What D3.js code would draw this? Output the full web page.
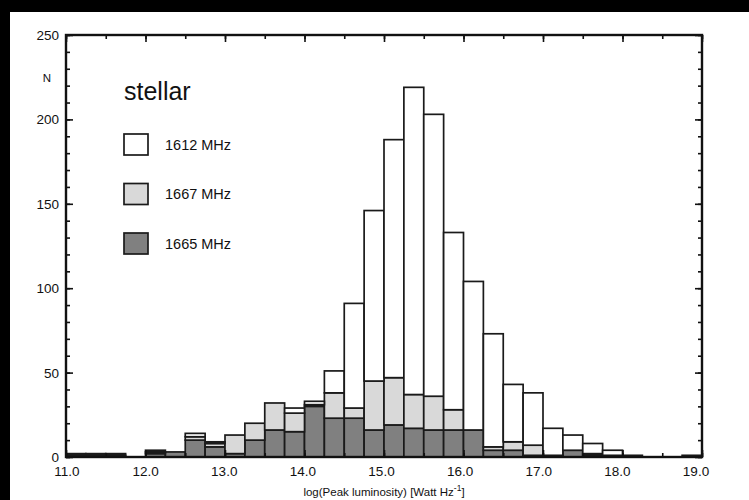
<!DOCTYPE html>
<html lang="en">
<head>
    <meta charset="UTF-8">
    <title>stellar OH masers - peak luminosity</title>
    <script src="https://cdn.jsdelivr.net/npm/d3@7"></script>
    <style>
        body{
            margin:0px;
            background:#000;
        }
        svg{
            position:absolute;
            left:0px;
            top:0px;
        }
        text{
            font-family:"Liberation Sans", Arial, Helvetica, sans-serif;
            fill:#111;
        }
    </style>
</head>
<body>
    <svg id="chart" width="749" height="500"></svg>
    <script>
        // left edge of each 0.25 dex bin
        var bins = [11.0,11.25,11.5,11.75,12.0,12.25,12.5,12.75,13.0,13.25,13.5,13.75,
                    14.0,14.25,14.5,14.75,15.0,15.25,15.5,15.75,16.0,16.25,16.5,16.75,
                    17.0,17.25,17.5,17.75,18.0,18.25,18.5,18.75]

        // counts per bin, stacked: 1665 at the bottom, 1667 on it, 1612 on top
        var n1665 = [1,1,1,0,2,3,10,6,2,10,16,15,30,23,23,16,19,17,16,16,16,4,4,1,0,4,1,1,1,0,0,1]
        var n1667 = [0,0,0,0,1,0,2,2,11,10,16,11,1,15,6,29,28,20,20,12,0,2,5,6,1,0,1,0,0,0,0,0]
        var n1612 = [1,1,1,0,1,0,2,1,0,0,0,3,2,13,62,101,141,182,167,105,88,67,34,31,16,9,6,3,0,0,0,0]

        var xTicks = [11,12,13,14,15,16,17,18,19]
        var yTicks = [0,50,100,150,200,250]

        var series = [
            {name:"1612 MHz", key:"f1612", fill:"#ffffff"},
            {name:"1667 MHz", key:"f1667", fill:"#d9d9d9"},
            {name:"1665 MHz", key:"f1665", fill:"#808080"}
        ]

        var table = bins.map(function(b, i){
            return {bin:b, f1665:n1665[i], f1667:n1667[i], f1612:n1612[i]}
        })

        var svg = d3.select("#chart")
        var W = 749, H = 500
        // plot frame (note: "top" is reserved on window, so use m-prefixed names)
        var mL = 66, mR = 702, mT = 35, mB = 457

        // white page with black scan edges on top and left
        svg.append("rect").attr("x", 10).attr("y", 12).attr("width", W - 10).attr("height", H - 12)
            .style("fill", "#fff")

        var x = d3.scaleLinear().domain([11, 19]).range([mL, mR])
        var y = d3.scaleLinear().domain([0, 250]).range([mB, mT])
        // the printed tick labels sit a little short of the frame ticks in the original
        var xLab = d3.scaleLinear().domain([11, 19]).range([mL + 1, mR - 6])

        var stack = d3.stack().keys(["f1665", "f1667", "f1612"])
        var layers = stack(table)
        var fillOf = {f1612:"#ffffff", f1667:"#d9d9d9", f1665:"#808080"}

        svg.append("g").selectAll("g")
            .data(layers)
            .enter().append("g")
            .style("fill", function(d){ return fillOf[d.key] })
            .selectAll("rect")
            .data(function(d){ return d.filter(function(s){ return s[1] > s[0] }) })
            .enter().append("rect")
            .attr("x", function(d){ return x(d.data.bin) })
            .attr("width", function(d){ return x(d.data.bin + 0.25) - x(d.data.bin) })
            .attr("y", function(d){ return y(d[1]) })
            .attr("height", function(d){ return y(d[0]) - y(d[1]) })
            .attr("stroke", "#1a1a1a")
            .attr("stroke-width", 1.7)

        // boxed frame, ticks pointing inward on all four sides
        var minorX = d3.range(11, 19.01, 0.5)
        var minorY = d3.range(0, 250.1, 10)
        var axes = [
            d3.axisBottom(x).tickValues(minorX).tickSize(-4).tickFormat(""),
            d3.axisTop(x).tickValues(minorX).tickSize(-4).tickFormat(""),
            d3.axisLeft(y).tickValues(minorY).tickSize(-4).tickFormat(""),
            d3.axisRight(y).tickValues(minorY).tickSize(-4).tickFormat(""),
            d3.axisBottom(x).tickValues(xTicks).tickSize(-7).tickFormat(""),
            d3.axisTop(x).tickValues(xTicks).tickSize(-7).tickFormat(""),
            d3.axisLeft(y).tickValues(yTicks).tickSize(-7).tickFormat(""),
            d3.axisRight(y).tickValues(yTicks).tickSize(-7).tickFormat("")
        ]
        var shift = [[0,mB],[0,mT],[mL,0],[mR,0],[0,mB],[0,mT],[mL,0],[mR,0]]
        axes.forEach(function(a, i){
            var g = svg.append("g").attr("transform", "translate(" + shift[i][0] + "," + shift[i][1] + ")").call(a)
            g.select(".domain").remove()
            g.selectAll("line").attr("stroke", "#111").attr("stroke-width", 1.6)
        })
        svg.append("rect").attr("x", mL).attr("y", mT)
            .attr("width", mR - mL).attr("height", mB - mT)
            .style("fill", "none").attr("stroke", "#111").attr("stroke-width", 2.4)

        // tick labels
        svg.append("g").selectAll("text").data(xTicks).enter().append("text")
            .attr("x", function(d){ return xLab(d) }).attr("y", 476)
            .attr("text-anchor", "middle").style("font-size", "13.5px")
            .text(function(d){ return d3.format(".1f")(d) })
        svg.append("g").selectAll("text").data(yTicks).enter().append("text")
            .attr("x", 59).attr("y", function(d){ return y(d) + 5 })
            .attr("text-anchor", "end").style("font-size", "13.5px")
            .text(function(d){ return d })

        svg.append("text").attr("x", 47).attr("y", 82).attr("text-anchor", "middle")
            .style("font-size", "11.5px").text("N")

        var title = svg.append("text").attr("x", x(15)).attr("y", 496).attr("text-anchor", "middle")
            .style("font-size", "11.5px")
        title.append("tspan").text("log(Peak luminosity) [Watt Hz")
        title.append("tspan").attr("dy", -5).style("font-size", "8.5px").text("-1")
        title.append("tspan").attr("dy", 5).text("]")

        // legend
        svg.append("text").attr("x", 124).attr("y", 100).style("font-size", "25px").text("stellar")
        var leg = svg.append("g").selectAll("g").data(series).enter().append("g")
            .attr("transform", function(d, i){ return "translate(124," + (134 + i * 49.5) + ")" })
        leg.append("rect").attr("width", 24).attr("height", 21)
            .style("fill", function(d){ return d.fill })
            .attr("stroke", "#1a1a1a").attr("stroke-width", 1.7)
        leg.append("text").attr("x", 41).attr("y", 15.5).style("font-size", "14.5px")
            .text(function(d){ return d.name })
    </script>
</body>
</html>
